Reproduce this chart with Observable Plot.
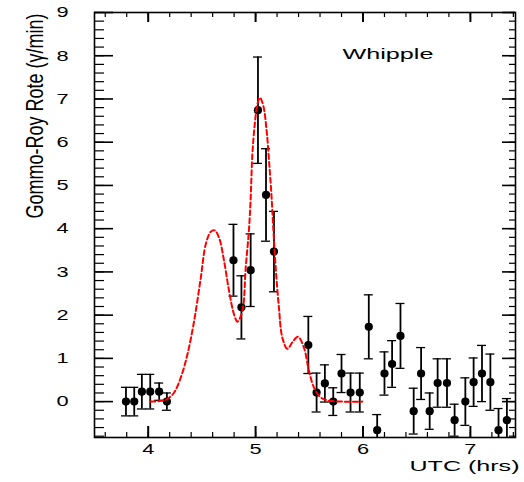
<!DOCTYPE html>
<html>
<head>
<meta charset="utf-8">
<script src="https://cdn.jsdelivr.net/npm/d3@7"></script>
<script src="https://cdn.jsdelivr.net/npm/@observablehq/plot@0.6"></script>
<style>
  html, body { margin: 0; padding: 0; background: #fff; }
  svg { display: block; }
</style>
</head>
<body>
<div id="chart"></div>
<script>
// Observed gamma-ray rate (Whipple), UTC hours
const times = [3.793, 3.870, 3.941, 4.019, 4.102, 4.174,
  4.794, 4.868, 4.954, 5.022, 5.097, 5.171,
  5.491, 5.568, 5.645, 5.723, 5.800, 5.884, 5.970, 6.054, 6.132, 6.200, 6.271, 6.349,
  6.472, 6.541, 6.621, 6.695, 6.782, 6.853, 6.953, 7.030, 7.108, 7.186, 7.262, 7.340];
const rates = [0.00, 0.00, 0.23, 0.23, 0.23, 0.00,
  3.27, 2.18, 3.04, 6.74, 4.78, 3.47,
  1.31, 0.21, 0.42, 0.00, 0.65, 0.21, 0.21, 1.73, -0.66, 0.65, 0.87, 1.52,
  -0.22, 0.65, -0.22, 0.43, 0.43, -0.43, 0.00, 0.45, 0.65, 0.45, -0.66, -0.43];
const errors = [0.33, 0.33, 0.40, 0.40, 0.20, 0.20,
  0.83, 0.73, 0.84, 1.23, 1.07, 0.93,
  0.66, 0.45, 0.43, 0.32, 0.44, 0.45, 0.45, 0.74, 0.36, 0.50, 0.54, 0.75,
  0.53, 0.60, 0.42, 0.56, 0.56, 0.37, 0.55, 0.56, 0.65, 0.65, 0.50, 0.50];

// Model curve (red dashed)
const modelTimes = [4.019, 4.10, 4.164, 4.20, 4.242, 4.304, 4.366, 4.428, 4.490, 4.536, 4.583, 4.620,
  4.660, 4.706, 4.753, 4.799, 4.831, 4.877, 4.908, 4.939, 4.954, 4.970, 4.992, 5.017, 5.041,
  5.072, 5.103, 5.125, 5.147, 5.165, 5.187, 5.217, 5.249, 5.296, 5.342, 5.394, 5.450, 5.496,
  5.543, 5.605, 5.667, 5.822, 5.993];
const modelRates = [0.00, 0.01, 0.04, 0.10, 0.21, 0.56, 1.10, 1.87, 2.87, 3.64, 3.93, 3.96,
  3.79, 3.26, 2.56, 2.02, 1.85, 2.10, 3.10, 4.00, 4.70, 5.72, 6.41, 6.88, 7.03,
  6.84, 6.26, 5.57, 4.80, 4.00, 3.10, 2.18, 1.48, 1.22, 1.37, 1.50, 1.25, 0.72,
  0.33, 0.10, 0.03, 0.00, 0.00];

const xTickLabels = [4, 5, 6, 7];
const yTickLabels = [0, 1, 2, 3, 4, 5, 6, 7, 8, 9];
const xDomain = [3.5, 7.42];
const yDomain = [-0.83, 9];
const yLabel = "Gommo-Roy Rote (γ/min)";
const xLabel = "UTC (hrs)";
const title = "Whipple";

const points = times.map((t, i) => ({t, r: rates[i], lo: rates[i] - errors[i], hi: rates[i] + errors[i]}));
const model = modelTimes.map((t, i) => ({t, r: modelRates[i]}));

const W = 524, H = 482, mL = 94, mR = 9, mT = 12, mB = 45;
const pw = W - mL - mR, ph = H - mT - mB;
const xMinor = d3.range(18, 38).map(v => v / 5);      // 3.6 .. 7.4 step 0.2
const yMinor = d3.range(-4, 46).map(v => v / 5);      // -0.8 .. 9 step 0.2

const svg = Plot.plot({
  width: W, height: H,
  marginLeft: mL, marginRight: mR, marginTop: mT, marginBottom: mB,
  style: {fontFamily: "'Liberation Sans', Arial, sans-serif", background: "white", color: "black"},
  x: {domain: xDomain},
  y: {domain: yDomain},
  marks: [
    // inward ticks
    Plot.tickX(xMinor, {x: d => d, insetTop: ph - 5, stroke: "black", strokeWidth: 1.2}),
    Plot.tickX(xTickLabels, {x: d => d, insetTop: ph - 11, stroke: "black", strokeWidth: 2}),
    Plot.tickX(xMinor, {x: d => d, insetBottom: ph - 5, stroke: "black", strokeWidth: 1.2}),
    Plot.tickX(xTickLabels, {x: d => d, insetBottom: ph - 10, stroke: "black", strokeWidth: 2}),
    Plot.tickY(yMinor, {y: d => d, insetRight: pw - 10, stroke: "black", strokeWidth: 1.2}),
    Plot.tickY(yTickLabels, {y: d => d, insetRight: pw - 19, stroke: "black", strokeWidth: 1.6}),
    Plot.tickY(yMinor, {y: d => d, insetLeft: pw - 6, stroke: "black", strokeWidth: 1.2}),
    Plot.tickY(yTickLabels, {y: d => d, insetLeft: pw - 13, stroke: "black", strokeWidth: 1.6}),
    Plot.axisX(xTickLabels, {anchor: "bottom", tickSize: 0, tickPadding: 6, fontSize: 15, label: null}),
    Plot.axisY(yTickLabels, {anchor: "left", tickSize: 0, tickPadding: 26, fontSize: 15, label: null}),
    Plot.frame({stroke: "black", strokeWidth: 1.6}),
    // error bars
    Plot.ruleX(points, {x: "t", y1: "lo", y2: "hi", stroke: "black", strokeWidth: 1.8, clip: true}),
    Plot.ruleY(points, {y: "hi", x1: "t", x2: "t", insetLeft: -4.5, insetRight: -4.5, stroke: "black", strokeWidth: 1.3, clip: true}),
    Plot.ruleY(points, {y: "lo", x1: "t", x2: "t", insetLeft: -4.5, insetRight: -4.5, stroke: "black", strokeWidth: 1.3, clip: true}),
    Plot.dot(points, {x: "t", y: "r", r: 4.1, fill: "black", stroke: "none"}),
    // model
    Plot.line(model, {x: "t", y: "r", stroke: "#ff0000", strokeWidth: 2, strokeDasharray: "5,3", curve: "catmull-rom"}),
    // texts
    Plot.text([title], {text: d => d, frameAnchor: "top-left", dx: 342 - mL, dy: 36.8, textAnchor: "start", fontSize: 14, fill: "black"}),
    Plot.text([xLabel], {text: d => d, frameAnchor: "bottom-right", dx: 4, dy: 33.5, textAnchor: "end", fontSize: 15, fill: "black"}),
    Plot.text([yLabel], {text: d => d, frameAnchor: "top-left", dx: 25.3 - mL, dy: 1, rotate: -90, textAnchor: "end", fontSize: 24, fill: "black"})
  ]
});
document.getElementById("chart").append(svg);

// widen/narrow glyphs to mimic the original plotting font
function stretch(el, target) {
  el.setAttribute("textLength", target);
  el.setAttribute("lengthAdjust", "spacingAndGlyphs");
}
svg.querySelectorAll('g[aria-label="x-axis tick label"] text, g[aria-label="y-axis tick label"] text').forEach(el => {
  stretch(el, el.getComputedTextLength() * 1.45);
});
svg.querySelectorAll("text").forEach(el => {
  const s = el.textContent;
  if (s === title) stretch(el, 91);
  else if (s === xLabel) stretch(el, 110);
  else if (s === yLabel) {
    const k = 205 / el.getComputedTextLength();
    const tr = el.getAttribute("transform") || "";
    el.setAttribute("transform", `${tr} scale(${k},1)`);
  }
});
</script>
</body>
</html>
